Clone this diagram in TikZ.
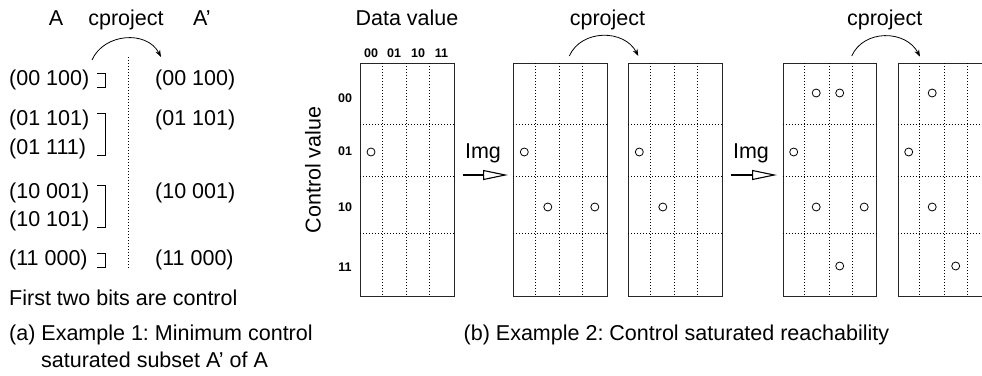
\documentclass[tikz,border=0pt]{standalone}
\usepackage{fontspec}
\setmainfont{Liberation Sans}
\usetikzlibrary{arrows.meta}
\frenchspacing

% one cell grid: #1 node name, #2 left edge
\newcommand\cellgrid[2]{%
  \node[gridbox, minimum width=93.5pt, minimum height=233pt, anchor=north west] (#1) at (#2,63) {};
  \foreach \dx in {22,46.5,69.2} \draw[gridline] (#2+\dx,63) -- (#2+\dx,296);
  \foreach \yy in {124,176,233} \draw[gridline] (#2,\yy) -- (#2+93.5,\yy);
}

\begin{document}
\begin{tikzpicture}[x=1pt,y=-1pt,
  lbl/.style={inner sep=0pt, font=\fontsize{21.5}{25}\selectfont},
  tag/.style={inner sep=0pt, font=\fontsize{12.5}{15}\selectfont\bfseries},
  gridbox/.style={draw=black!85, line width=1pt, inner sep=0pt},
  gridline/.style={line width=0.8pt, dash pattern=on 0.8pt off 2.2pt},
  dot/.style={circle, draw, line width=0.8pt, minimum size=8pt, inner sep=0pt},
  curvearrow/.style={line width=0.8pt, -{Stealth[length=7pt,width=5pt]}},
  imgarrow/.style={line width=1.1pt, -{Triangle[open,length=25pt,width=10pt,line width=1.1pt]}},
  brk/.style={line width=0.8pt}]
\useasboundingbox (0,0) rectangle (982,375);

% ---------- (a) minimum control saturated subset ----------
\node[lbl, anchor=base] (setA) at (56,25) {A};
\node[lbl, anchor=base] (cpA) at (126,25) {cproject};
\node[lbl, anchor=base] (setAp) at (202,25) {A’};
\coordinate (la0) at (92,60);
\coordinate (la1) at (161,57);
\draw[curvearrow] (la0) .. controls +(12,-27) and +(-14,-27) .. (la1);

\coordinate (sepT) at (128,57);
\coordinate (sepB) at (128,268);
\draw[gridline] (sepT) -- (sepB);

\node[lbl, anchor=west] (a1) at (9,80)    {(00 100)};
\node[lbl, anchor=west] (a2) at (9,120)   {(01 101)};
\node[lbl, anchor=west] (a3) at (9,148.5) {(01 111)};
\node[lbl, anchor=west] (a4) at (9,192.5) {(10 001)};
\node[lbl, anchor=west] (a5) at (9,220.5) {(10 101)};
\node[lbl, anchor=west] (a6) at (9,260)   {(11 000)};

\draw[brk] (97,73) -- (105,73) -- (105,87) -- (97,87);
\draw[brk] (97,113) -- (105,113) -- (105,155.5) -- (97,155.5);
\draw[brk] (97,185.5) -- (105,185.5) -- (105,227.5) -- (97,227.5);
\draw[brk] (97,253) -- (105,253) -- (105,267) -- (97,267);

\node[lbl, anchor=west] (b1) at (155,80)    {(00 100)};
\node[lbl, anchor=west] (b2) at (155,120)   {(01 101)};
\node[lbl, anchor=west] (b3) at (155,192.5) {(10 001)};
\node[lbl, anchor=west] (b4) at (155,260)   {(11 000)};

\node[lbl, anchor=base west] (note) at (9,305) {First two bits are control};
\node[lbl, anchor=base west] (capA1) at (9,340.5) {(a) Example 1: Minimum control};
\node[lbl, anchor=base west] (capA2) at (41,367) {saturated subset A’ of A};

% ---------- (b) control saturated reachability ----------
\node[lbl, anchor=base] (dval) at (407,25) {Data value};
\node[lbl, rotate=90] (cval) at (313,170) {Control value};

\foreach \t/\x in {00/371,01/394,10/418,11/441.5}
  \node[tag] (col\t) at (\x,53) {\t};
\foreach \t/\y in {00/98,01/151,10/207,11/267}
  \node[tag] (row\t) at (345,\y) {\t};

\cellgrid{g1}{360}
\cellgrid{g2}{513.3}
\cellgrid{g3}{628.3}
\cellgrid{g4}{782.7}
\cellgrid{g5}{897.7}

% states in each grid
\node[dot] (p11) at (371,152) {};

\node[dot] (p21) at (524.3,152) {};
\node[dot] (p22) at (547.8,207) {};
\node[dot] (p23) at (594.8,207) {};

\node[dot] (p31) at (639.3,152) {};
\node[dot] (p32) at (662.8,207) {};

\node[dot] (p41) at (816.2,93) {};
\node[dot] (p42) at (839.7,93) {};
\node[dot] (p43) at (793.7,152) {};
\node[dot] (p44) at (816.2,207) {};
\node[dot] (p45) at (864.2,207) {};
\node[dot] (p46) at (839.7,266) {};

\node[dot] (p51) at (932.2,93) {};
\node[dot] (p52) at (908.7,152) {};
\node[dot] (p53) at (932.2,207) {};
\node[dot] (p54) at (955.7,266) {};

% image steps
\node[lbl, anchor=base] (img1) at (483,158.3) {Img};
\coordinate (ia0) at (463,175);
\coordinate (ia1) at (508,175);
\draw[imgarrow] (ia0) -- (ia1);

\node[lbl, anchor=base] (img2) at (751,158.3) {Img};
\coordinate (ib0) at (731,175);
\coordinate (ib1) at (777,175);
\draw[imgarrow] (ib0) -- (ib1);

% cproject steps
\node[lbl, anchor=base] (cp1) at (607.5,25) {cproject};
\coordinate (ca0) at (569.3,56);
\coordinate (ca1) at (638.3,56);
\draw[curvearrow] (ca0) .. controls +(12,-27) and +(-14,-27) .. (ca1);

\node[lbl, anchor=base] (cp2) at (884.7,25) {cproject};
\coordinate (cb0) at (851.7,56);
\coordinate (cb1) at (920,56.7);
\draw[curvearrow] (cb0) .. controls +(12,-27) and +(-14,-27) .. (cb1);

\node[lbl, anchor=base west] (capB) at (463.5,340.5) {(b) Example 2: Control saturated reachability};
\end{tikzpicture}
\end{document}
